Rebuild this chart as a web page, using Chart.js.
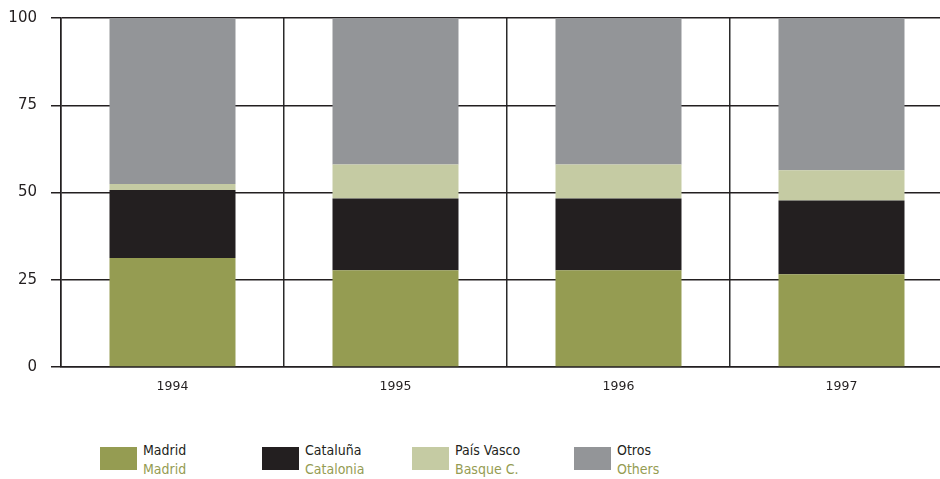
<!DOCTYPE html>
<html>
<head>
<meta charset="utf-8">
<script src="https://cdn.jsdelivr.net/npm/chart.js@4"></script>
<style>
  html, body { margin: 0; padding: 0; background: #fff; overflow: hidden; width: 940px; height: 479px; }
  #wrap { position: absolute; left: 0; top: 0; width: 953px; height: 400px; }
  .legend-item { position: absolute; top: 441px; font-family: "DejaVu Sans Condensed", "Liberation Sans Narrow", sans-serif; font-size: 14px; line-height: 19px; }
  .legend-item .box { position: absolute; left: 0; top: 6px; width: 37px; height: 23px; }
  .legend-item .txt { position: absolute; left: 43px; top: 0; white-space: nowrap; color: #231f20; }
  .legend-item .en { color: #959c52; }
</style>
</head>
<body>
<div id="wrap"><canvas id="shareChart"></canvas></div>
<div id="legend"></div>
<script>
const years = ["1994", "1995", "1996", "1997"];
const seriesNames = ["Madrid", "Cataluña", "País Vasco", "Otros"];
const seriesNamesEn = ["Madrid", "Catalonia", "Basque C.", "Others"];
const madrid = [31.2, 27.7, 27.7, 26.6];
const cataluna = [19.5, 20.6, 20.6, 21.1];
const paisVasco = [1.7, 9.7, 9.7, 8.7];
const otros = [47.6, 42.0, 42.0, 43.6];
const yTicks = [0, 25, 50, 75, 100];

const colors = ["#959c52", "#231f20", "#c5cba3", "#939598"];
const legendX = [100, 262, 412, 574];
const values = [madrid, cataluna, paisVasco, otros];

const ctx = document.getElementById("shareChart").getContext("2d");

const shareChart = new Chart(ctx, {
  type: "bar",
  data: {
    labels: years,
    datasets: seriesNames.map((name, i) => ({
      label: name,
      data: values[i],
      backgroundColor: colors[i],
      borderWidth: 0,
      barPercentage: 0.565,
      categoryPercentage: 1,
    })),
  },
  options: {
    responsive: true,
    maintainAspectRatio: false,
    animation: false,
    layout: { padding: { top: 18, right: 0, bottom: 0, left: 0 } },
    scales: {
      x: {
        stacked: true,
        afterFit: (scale) => {
          scale.height = 33;
          scale.paddingLeft = 0;
          scale.paddingRight = 0;
        },
        grid: { offset: true, color: "#2a2a2a", lineWidth: 1.5, drawTicks: false },
        border: { color: "#231f20", width: 1.5 },
        ticks: {
          padding: 12,
          color: "#231f20",
          font: { family: "DejaVu Sans", size: 12.5 },
        },
      },
      y: {
        stacked: true,
        min: 0,
        max: 100,
        afterFit: (scale) => {
          scale.width = 61;
          scale.paddingTop = 0;
          scale.paddingBottom = 0;
        },
        afterBuildTicks: (scale) => { scale.ticks = yTicks.map((v) => ({ value: v })); },
        grid: { color: "#231f20", lineWidth: 1.5, tickLength: 10 },
        border: { color: "#231f20", width: 1.5 },
        ticks: {
          padding: 14,
          color: "#231f20",
          font: { family: "DejaVu Sans", size: 15 },
        },
      },
    },
    plugins: {
      legend: { display: false },
      tooltip: { enabled: false },
    },
  },
});

const legend = document.getElementById("legend");
seriesNames.forEach((name, i) => {
  const item = document.createElement("div");
  item.className = "legend-item";
  item.style.left = legendX[i] + "px";
  item.innerHTML =
    '<div class="box" style="background:' + colors[i] + '"></div>' +
    '<div class="txt">' + name + '<br><span class="en">' + seriesNamesEn[i] + "</span></div>";
  legend.appendChild(item);
});
</script>
</body>
</html>
